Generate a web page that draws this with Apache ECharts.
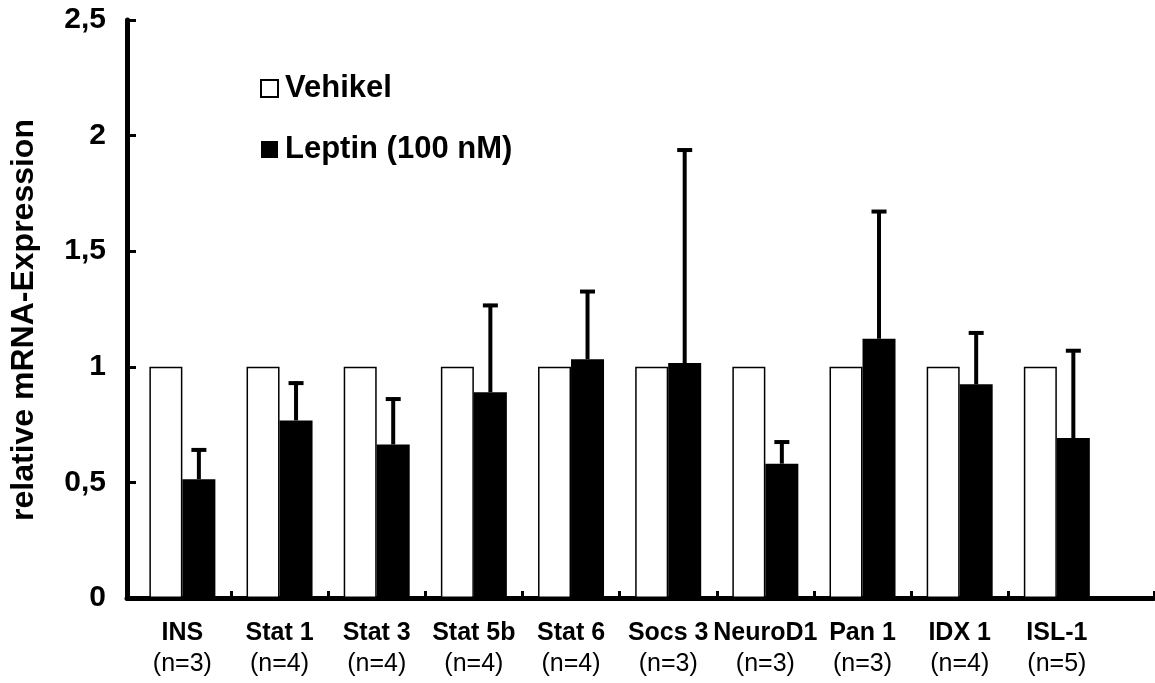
<!DOCTYPE html>
<html>
<head>
<meta charset="utf-8">
<script src="https://cdn.jsdelivr.net/npm/echarts@6/dist/echarts.min.js"></script>
<style>html,body{margin:0;padding:0;background:#fff}#c{width:1155px;height:683px}</style>
</head>
<body>
<div id="c"></div>
<script>
const categories = ['INS', 'Stat 1', 'Stat 3', 'Stat 5b', 'Stat 6', 'Socs 3', 'NeuroD1', 'Pan 1', 'IDX 1', 'ISL-1'];
const sampleSizes = ['(n=3)', '(n=4)', '(n=4)', '(n=4)', '(n=4)', '(n=3)', '(n=3)', '(n=3)', '(n=4)', '(n=5)'];
const vehikel = [1, 1, 1, 1, 1, 1, 1, 1, 1, 1];
const leptin = [0.514, 0.768, 0.664, 0.890, 1.033, 1.016, 0.581, 1.121, 0.924, 0.692];
const leptinErr = [0.133, 0.168, 0.203, 0.382, 0.299, 0.928, 0.100, 0.557, 0.229, 0.384];
const yTicks = [0, 0.5, 1, 1.5, 2, 2.5];

const FONT = "'Liberation Sans', Arial, sans-serif";
const BAR_W = 33;
const idx = categories.map((_, i) => i);

const chart = echarts.init(document.getElementById('c'), null, {renderer: 'canvas'});
chart.setOption({
  animation: false,
  backgroundColor: '#fff',
  textStyle: {fontFamily: FONT, color: '#000'},
  grid: {left: 124, right: 1, top: 20, bottom: 85, containLabel: false},
  legend: {
    orient: 'vertical', left: 255, top: 68, itemWidth: 17, itemHeight: 17, itemGap: 30,
    icon: 'rect',
    textStyle: {fontFamily: FONT, fontSize: 31, fontWeight: 'bold', color: '#000', padding: [0, 0, 0, 2]},
    data: ['Vehikel', 'Leptin (100 nM)']
  },
  xAxis: {
    type: 'value', min: -0.57, max: 10,
    splitLine: {show: false},
    axisLine: {show: true, onZero: false, lineStyle: {color: '#000', width: 5}},
    axisTick: {show: true, inside: true, length: 7, lineStyle: {color: '#000', width: 3},
      customValues: [0.5, 1.5, 2.5, 3.5, 4.5, 5.5, 6.5, 7.5, 8.5, 10]},
    axisLabel: {
      customValues: idx, margin: 20,
      formatter: v => { const i = Math.round(v); return '{b|' + categories[i] + '}\n{n|' + sampleSizes[i] + '}'; },
      rich: {
        b: {fontFamily: FONT, fontSize: 25, fontWeight: 'bold', color: '#000', lineHeight: 31},
        n: {fontFamily: FONT, fontSize: 25, color: '#000', lineHeight: 31}
      }
    }
  },
  yAxis: {
    type: 'value', min: 0, max: 2.5, interval: 0.5,
    splitLine: {show: false},
    axisLine: {show: true, onZero: false, lineStyle: {color: '#000', width: 5}},
    axisTick: {show: true, inside: true, length: 9, lineStyle: {color: '#000', width: 3}},
    axisLabel: {margin: 21, fontFamily: FONT, fontSize: 30, fontWeight: 'bold', color: '#000',
      formatter: v => String(v).replace('.', ',')},
    name: 'relative mRNA-Expression', nameLocation: 'middle', nameGap: 87,
    nameTextStyle: {fontFamily: FONT, fontSize: 32, fontWeight: 'bold', color: '#000', padding: [0, 22, 0, 0]}
  },
  series: [
    {
      name: 'Vehikel', type: 'bar', barWidth: BAR_W, barGap: '0%',
      itemStyle: {color: '#fff', borderColor: '#000', borderWidth: 1.5},
      data: idx.map(i => [i, vehikel[i]])
    },
    {
      name: 'Leptin (100 nM)', type: 'bar', barWidth: BAR_W, barGap: '0%',
      itemStyle: {color: '#000', borderColor: '#000', borderWidth: 0},
      data: idx.map(i => [i, leptin[i]])
    },
    {
      name: 'err', type: 'custom', z: 5, silent: true,
      data: idx.map(i => [i, leptin[i], leptin[i] + leptinErr[i]]),
      renderItem: (params, api) => {
        const base = api.coord([api.value(0), api.value(1)]);
        const top = api.coord([api.value(0), api.value(2)]);
        const x = base[0] + BAR_W / 2;
        return {
          type: 'group',
          children: [
            {type: 'line', shape: {x1: x, y1: base[1], x2: x, y2: top[1]}, style: {stroke: '#000', lineWidth: 4}},
            {type: 'line', shape: {x1: x - 7.5, y1: top[1] + 1.5, x2: x + 7.5, y2: top[1] + 1.5}, style: {stroke: '#000', lineWidth: 4}}
          ]
        };
      }
    }
  ]
});
</script>
</body>
</html>
